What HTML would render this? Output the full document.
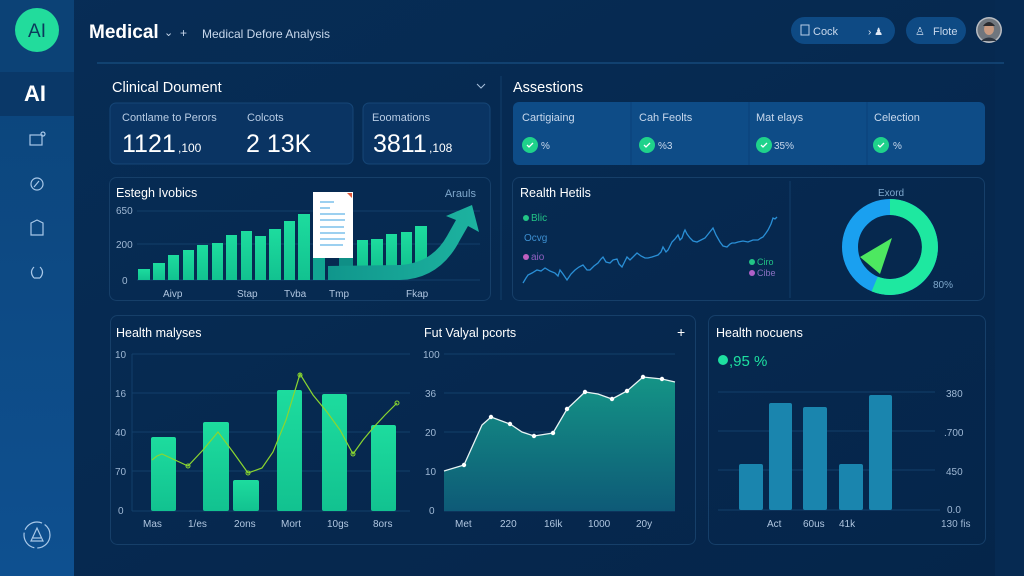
<!DOCTYPE html>
<html><head><meta charset="utf-8">
<style>
html,body{margin:0;padding:0;background:#062a50;}
svg{display:block;font-family:"Liberation Sans",sans-serif;}
</style></head>
<body>
<svg width="1024" height="576" viewBox="0 0 1024 576" xmlns="http://www.w3.org/2000/svg">
<defs>
<linearGradient id="bg" x1="0" y1="0" x2="1" y2="1">
<stop offset="0" stop-color="#072d56"/><stop offset="1" stop-color="#05254a"/>
</linearGradient>
<linearGradient id="side" x1="0" y1="0" x2="0" y2="1">
<stop offset="0" stop-color="#0c4479"/><stop offset="1" stop-color="#0e5090"/>
</linearGradient>
<linearGradient id="bar1" x1="0" y1="0" x2="0" y2="1">
<stop offset="0" stop-color="#1ddc9e"/><stop offset="1" stop-color="#12c290"/>
</linearGradient>
<linearGradient id="area" x1="0" y1="0" x2="0" y2="1">
<stop offset="0" stop-color="#149486"/><stop offset="1" stop-color="#0e5a77"/>
</linearGradient>
<linearGradient id="arrow" x1="0" y1="0" x2="1" y2="0">
<stop offset="0" stop-color="#10968c"/><stop offset="1" stop-color="#1db3a0"/>
</linearGradient>
</defs>
<rect width="1024" height="576" fill="url(#bg)"/>
<rect x="995" y="0" width="29" height="576" fill="#062a52"/>

<!-- Sidebar -->
<rect x="0" y="0" width="74" height="576" fill="url(#side)"/>
<rect x="0" y="0" width="74" height="72" fill="#0c4276"/>
<rect x="0" y="72" width="74" height="44" fill="#0a3868"/>
<circle cx="37" cy="30" r="22" fill="#22dc9c"/>
<text x="37" y="37" text-anchor="middle" font-size="19" fill="#0b3a5c">AI</text>
<text x="35" y="101" text-anchor="middle" font-size="22" font-weight="bold" fill="#ffffff">AI</text>
<g fill="none" stroke="#a8c8e8" stroke-width="1.2">
<rect x="30" y="135" width="12" height="10"/><circle cx="43" cy="134" r="2"/>
<circle cx="37" cy="184" r="6"/><path d="M34 187 L39 181"/>
<path d="M31 223 L37 220 L43 223 L43 235 L31 235 Z"/>
<path d="M34 267 Q29 272 34 278 M40 267 Q45 272 40 278 M34 278 L40 278"/>
<circle cx="37" cy="535" r="13" stroke-dasharray="20 3"/>
<path d="M31 541 L37 528 L43 541 Z M33 538 L41 538"/>
</g>

<!-- Header -->
<text x="89" y="38" font-size="19" font-weight="bold" fill="#ffffff">Medical</text>
<text x="164" y="36" font-size="11" fill="#c8d8ec">⌄</text>
<text x="180" y="37" font-size="12" fill="#c8d8ec">+</text>
<text x="202" y="38" font-size="12" fill="#c8d8ec">Medical Defore Analysis</text>
<rect x="791" y="17" width="104" height="27" rx="13.5" fill="#0e4a84"/>
<rect x="801" y="25" width="8" height="10" fill="none" stroke="#b8cfe8" stroke-width="1"/>
<text x="813" y="35" font-size="11" fill="#c8d8ec">Cock</text>
<text x="868" y="35" font-size="10" fill="#e0e8f4">› ♟</text>
<rect x="906" y="17" width="60" height="27" rx="13.5" fill="#0e4a84"/>
<text x="915" y="35" font-size="11" fill="#c8d8ec">♙</text>
<text x="933" y="35" font-size="11" fill="#c8d8ec">Flote</text>
<circle cx="989" cy="30" r="13" fill="#b8bcc2"/>
<circle cx="989" cy="30" r="11.5" fill="#6f767e"/>
<ellipse cx="989" cy="29" rx="5" ry="6" fill="#c89a80"/>
<path d="M983 26 Q989 18 995 26 Z" fill="#2a2a2e"/>
<path d="M981 41 Q989 34 997 41 Z" fill="#2b3440"/>
<line x1="97" y1="63" x2="1004" y2="63" stroke="#15497a" stroke-width="1.5"/>

<!-- Clinical Document -->
<text x="112" y="92" font-size="14.5" fill="#ffffff">Clinical Doument</text>
<path d="M477 84 L481 88 L485 84" fill="none" stroke="#a8c0dc" stroke-width="1"/>
<line x1="501" y1="76" x2="501" y2="300" stroke="#123e6a" stroke-width="1"/>
<rect x="110" y="103" width="243" height="61" rx="6" fill="#0a3463" stroke="#164677"/>
<text x="122" y="121" font-size="11" fill="#b8cce4">Contlame to Perors</text>
<text x="247" y="121" font-size="11" fill="#b8cce4">Colcots</text>
<text x="122" y="152" font-size="25" fill="#ffffff">1121</text>
<text x="178" y="152" font-size="12" fill="#ffffff">,100</text>
<text x="246" y="152" font-size="25" fill="#ffffff">2 13K</text>
<rect x="363" y="103" width="127" height="61" rx="6" fill="#0a3463" stroke="#164677"/>
<text x="372" y="121" font-size="11" fill="#b8cce4">Eoomations</text>
<text x="373" y="152" font-size="25" fill="#ffffff">3811</text>
<text x="429" y="152" font-size="12" fill="#ffffff">,108</text>

<!-- Assestions -->
<text x="513" y="92" font-size="14.5" fill="#ffffff">Assestions</text>
<rect x="513" y="102" width="472" height="63" rx="6" fill="#0e4c87"/>
<g stroke="#0b4179" stroke-width="1"><line x1="631" y1="102" x2="631" y2="165"/><line x1="749" y1="102" x2="749" y2="165"/><line x1="867" y1="102" x2="867" y2="165"/></g>
<g font-size="11" fill="#c8d8ec">
<text x="522" y="121">Cartigiaing</text><text x="639" y="121">Cah Feolts</text><text x="756" y="121">Mat elays</text><text x="874" y="121">Celection</text>
</g>
<g fill="#1fd28b"><circle cx="530" cy="145" r="8"/><circle cx="647" cy="145" r="8"/><circle cx="764" cy="145" r="8"/><circle cx="881" cy="145" r="8"/></g>
<g stroke="#ffffff" stroke-width="1.3" fill="none"><path d="M527 145 L529 147 L533 143"/><path d="M644 145 L646 147 L650 143"/><path d="M761 145 L763 147 L767 143"/><path d="M878 145 L880 147 L884 143"/></g>
<g font-size="10" fill="#c8d8ec"><text x="541" y="149">%</text><text x="658" y="149">%3</text><text x="774" y="149">35%</text><text x="893" y="149">%</text></g>

<!-- Chart 1 -->
<rect x="109.5" y="177.5" width="381" height="123" rx="7" fill="none" stroke="#163f69"/>
<text x="116" y="197" font-size="12.5" fill="#ffffff">Estegh Ivobics</text>
<text x="476" y="197" font-size="11" text-anchor="end" fill="#7fa8cc">Arauls</text>
<g font-size="10" fill="#9fb8d4"><text x="116" y="214">650</text><text x="116" y="248">200</text><text x="122" y="284">0</text></g>
<g stroke="#123f6a" stroke-width="1"><line x1="137" y1="211" x2="480" y2="211"/><line x1="137" y1="244" x2="480" y2="244"/><line x1="137" y1="280" x2="480" y2="280"/></g>
<g fill="url(#bar1)">
<rect x="138" y="269" width="12" height="11"/><rect x="153" y="263" width="12" height="17"/><rect x="168" y="255" width="11" height="25"/><rect x="183" y="250" width="11" height="30"/><rect x="197" y="245" width="11" height="35"/><rect x="212" y="243" width="11" height="37"/><rect x="226" y="235" width="11" height="45"/><rect x="241" y="231" width="11" height="49"/><rect x="255" y="236" width="11" height="44"/><rect x="269" y="229" width="12" height="51"/><rect x="284" y="221" width="11" height="59"/><rect x="298" y="214" width="12" height="66"/>
<rect x="357" y="240" width="11" height="30"/><rect x="371" y="239" width="12" height="30"/><rect x="386" y="234" width="11" height="35"/><rect x="401" y="232" width="11" height="37"/><rect x="415" y="226" width="12" height="43"/>
</g>
<rect x="313" y="250" width="12" height="30" fill="#11a592"/>
<rect x="339" y="240" width="14" height="40" fill="#0f8f86"/>
<path d="M328 280 L400 280 Q440 279 460 240 L468 226 L479 232 L472 205 L446 216 L456 220 L447 236 Q432 263 400 265 L328 266 Z" fill="url(#arrow)"/>
<rect x="313" y="192" width="40" height="66" fill="#ffffff"/>
<path d="M347 193 L352 193 L352 198 Z" fill="#e0583a"/>
<g stroke="#3aa0e0" stroke-width="1"><line x1="320" y1="202" x2="334" y2="202"/><line x1="320" y1="208" x2="330" y2="208"/><line x1="320" y1="214" x2="345" y2="214"/><line x1="320" y1="220" x2="345" y2="220"/><line x1="320" y1="227" x2="344" y2="227"/><line x1="320" y1="233" x2="345" y2="233"/><line x1="320" y1="239" x2="345" y2="239"/><line x1="320" y1="245" x2="343" y2="245"/></g>
<g font-size="10" fill="#b0c6e0"><text x="163" y="297">Aivp</text><text x="237" y="297">Stap</text><text x="284" y="297">Tvba</text><text x="329" y="297">Tmp</text><text x="406" y="297">Fkap</text></g>

<!-- Chart 2 -->
<rect x="512.5" y="177.5" width="472" height="123" rx="7" fill="none" stroke="#163f69"/>
<line x1="790" y1="181" x2="790" y2="298" stroke="#123e6a"/>
<text x="520" y="197" font-size="12.5" fill="#ffffff">Realth Hetils</text>
<circle cx="526" cy="218" r="3" fill="#22c486"/><text x="531" y="221" font-size="10" fill="#22c486">Blic</text>
<text x="524" y="241" font-size="10" fill="#3d8fd0">Ocvg</text>
<circle cx="526" cy="257" r="3" fill="#c060c0"/><text x="531" y="260" font-size="10" fill="#9060c0">aio</text>
<circle cx="752" cy="262" r="3" fill="#22c486"/><text x="757" y="265" font-size="9" fill="#22c486">Ciro</text>
<circle cx="752" cy="273" r="3" fill="#b060c8"/><text x="757" y="276" font-size="9" fill="#8a70c0">Cibe</text>
<polyline fill="none" stroke="#2a8fd6" stroke-width="1.3" points="523,283 526,278 528,275 532,273 537,270 541,271 545,268 550,271 555,273 558,276 560,270 563,274 567,280 571,274 575,270 579,267 583,265 587,270 590,270 594,266 598,263 601,259 603,257 606,262 610,263 613,260 617,259 619,264 622,267 625,261 627,257 630,260 632,258 635,255 637,253 641,256 645,258 648,258 652,257 655,256 658,255 661,252 663,247 666,252 668,250 670,246 672,242 675,239 678,235 680,240 682,238 684,232 685,230 687,234 690,238 693,241 697,242 701,240 705,238 709,233 713,228 716,235 720,242 723,246 727,247 730,244 732,243 735,243 738,242 743,241 748,242 753,240 758,240 761,238 763,237 766,233 768,230 771,224 773,218 775,219 777,217"/>
<text x="878" y="196" font-size="10" fill="#7fa8cc">Exord</text>
<circle cx="890" cy="247" r="40" fill="none" stroke="#1aa0f0" stroke-width="16"/>
<path d="M890 207 A40 40 0 1 1 874.7 284 " fill="none" stroke="#1ee8a0" stroke-width="16"/>
<path d="M860 257 L892 238 L880 274 Z" fill="#4de860"/>
<text x="933" y="288" font-size="10" fill="#7fa8cc">80%</text>

<!-- Bottom big panel -->
<rect x="110.5" y="315.5" width="585" height="229" rx="7" fill="none" stroke="#163f69"/>
<text x="116" y="337" font-size="12.5" fill="#ffffff">Health malyses</text>
<g font-size="10" fill="#9fb8d4"><text x="115" y="358">10</text><text x="115" y="397">16</text><text x="115" y="436">40</text><text x="115" y="475">70</text><text x="118" y="514">0</text></g>
<g stroke="#123f6a"><line x1="132" y1="354" x2="410" y2="354"/><line x1="132" y1="393" x2="410" y2="393"/><line x1="132" y1="432" x2="410" y2="432"/><line x1="132" y1="471" x2="410" y2="471"/><line x1="132" y1="511" x2="410" y2="511"/><line x1="132" y1="354" x2="132" y2="511"/></g>
<g fill="url(#bar1)">
<rect x="151" y="437" width="25" height="74" rx="2"/><rect x="203" y="422" width="26" height="89" rx="2"/><rect x="233" y="480" width="26" height="31" rx="2"/><rect x="277" y="390" width="25" height="121" rx="2"/><rect x="322" y="394" width="25" height="117" rx="2"/><rect x="371" y="425" width="25" height="86" rx="2"/>
</g>
<polyline fill="none" stroke="#8ad630" stroke-width="1.2" points="152,460 157,456 162,454 175,460 188,466 203,450 218,432 233,452 248,473 262,468 273,452 286,420 300,374 313,395 327,412 340,430 353,454 363,440 373,428 385,415 397,403"/>
<g fill="none" stroke="#8ad630" stroke-width="1"><circle cx="188" cy="466" r="2"/><circle cx="248" cy="473" r="2"/><circle cx="300" cy="375" r="2"/><circle cx="353" cy="454" r="2"/><circle cx="397" cy="403" r="2"/></g>
<g font-size="10" fill="#b0c6e0"><text x="143" y="527">Mas</text><text x="188" y="527">1/es</text><text x="234" y="527">2ons</text><text x="281" y="527">Mort</text><text x="327" y="527">10gs</text><text x="373" y="527">8ors</text></g>

<text x="424" y="337" font-size="12.5" fill="#ffffff">Fut Valyal pcorts</text>
<text x="677" y="337" font-size="14" fill="#ffffff">+</text>
<g font-size="10" fill="#9fb8d4"><text x="423" y="358">100</text><text x="425" y="397">36</text><text x="425" y="436">20</text><text x="425" y="475">10</text><text x="429" y="514">0</text></g>
<g stroke="#123f6a"><line x1="444" y1="354" x2="675" y2="354"/><line x1="444" y1="393" x2="675" y2="393"/><line x1="444" y1="432" x2="675" y2="432"/><line x1="444" y1="471" x2="675" y2="471"/><line x1="444" y1="511" x2="675" y2="511"/></g>
<path d="M444 471 L464 465 L482 425 L491 417 L510 424 L522 432 L534 436 L553 433 L567 409 L585 392 L598 394 L612 399 L627 391 L643 377 L662 379 L675 382 L675 511 L444 511 Z" fill="url(#area)"/>
<polyline fill="none" stroke="#e8f4f4" stroke-width="1.3" points="444,471 464,465 482,425 491,417 510,424 522,432 534,436 553,433 567,409 585,392 598,394 612,399 627,391 643,377 662,379 675,382"/>
<g fill="#ffffff"><circle cx="464" cy="465" r="2.2"/><circle cx="491" cy="417" r="2.2"/><circle cx="510" cy="424" r="2.2"/><circle cx="534" cy="436" r="2.2"/><circle cx="553" cy="433" r="2.2"/><circle cx="567" cy="409" r="2.2"/><circle cx="585" cy="392" r="2.2"/><circle cx="612" cy="399" r="2.2"/><circle cx="627" cy="391" r="2.2"/><circle cx="643" cy="377" r="2.2"/><circle cx="662" cy="379" r="2.2"/></g>
<g font-size="10" fill="#b0c6e0"><text x="455" y="527">Met</text><text x="500" y="527">220</text><text x="544" y="527">16lk</text><text x="588" y="527">1000</text><text x="636" y="527">20y</text></g>

<!-- Health nocuens -->
<rect x="708.5" y="315.5" width="277" height="229" rx="7" fill="none" stroke="#163f69"/>
<text x="716" y="337" font-size="12.5" fill="#ffffff">Health nocuens</text>
<circle cx="723" cy="360" r="5" fill="#1ee0a0"/>
<text x="729" y="366" font-size="15" fill="#1ee0a0">,95 %</text>
<g stroke="#123f6a"><line x1="718" y1="392" x2="935" y2="392"/><line x1="718" y1="431" x2="935" y2="431"/><line x1="718" y1="470" x2="935" y2="470"/><line x1="718" y1="510" x2="940" y2="510"/></g>
<g fill="#1a85ae">
<rect x="739" y="464" width="24" height="46" rx="2"/><rect x="769" y="403" width="23" height="107" rx="2"/><rect x="803" y="407" width="24" height="103" rx="2"/><rect x="839" y="464" width="24" height="46" rx="2"/><rect x="869" y="395" width="23" height="115" rx="2"/>
</g>
<g font-size="10" fill="#9fb8d4"><text x="946" y="397">380</text><text x="944" y="436">.700</text><text x="946" y="475">450</text><text x="947" y="513">0.0</text><text x="941" y="527">130 fis</text></g>
<g font-size="10" fill="#b0c6e0"><text x="767" y="527">Act</text><text x="803" y="527">60us</text><text x="839" y="527">41k</text></g>
</svg>
</body></html>
